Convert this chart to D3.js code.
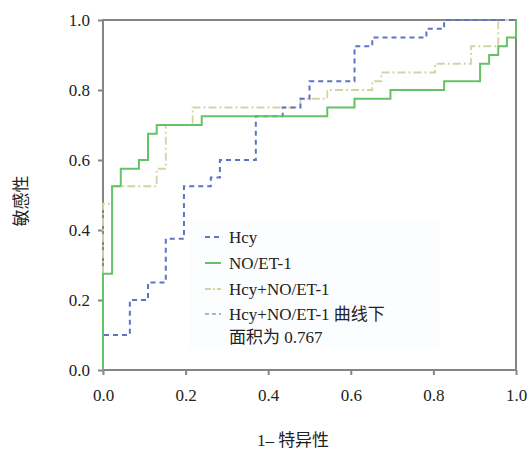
<!DOCTYPE html>
<html><head><meta charset="utf-8">
<script src="https://cdn.jsdelivr.net/npm/d3@7/dist/d3.min.js"></script>
<style>body{margin:0;background:#fff}svg{display:block}</style>
</head><body><svg id="c" width="531" height="453"></svg>
<script>
const tickLabels = ["0.0","0.2","0.4","0.6","0.8","1.0"];
const tickValues = [0,0.2,0.4,0.6,0.8,1.0];
const seriesNames = ["Hcy","NO/ET-1","Hcy+NO/ET-1"];
const noteLines = ["Hcy+NO/ET-1 曲线下","面积为 0.767"];
const hcyFpr = [0,0,0.065,0.109,0.152,0.196,0.261,0.283,0.370,0.435,0.478,0.500,0.609,0.652,0.783,0.826,1];
const hcyTpr = [0,0.1,0.2,0.25,0.375,0.525,0.55,0.6,0.725,0.75,0.775,0.825,0.925,0.95,0.975,1,1];
const noFpr = [0,0,0.022,0.043,0.087,0.109,0.130,0.239,0.543,0.609,0.696,0.826,0.913,0.935,0.957,0.978,1];
const noTpr = [0,0.275,0.525,0.575,0.6,0.675,0.7,0.725,0.75,0.775,0.8,0.825,0.875,0.9,0.925,0.95,1];
const combFpr = [0,0,0.022,0.130,0.152,0.217,0.478,0.543,0.652,0.674,0.804,0.891,0.957,1];
const combTpr = [0,0.475,0.525,0.575,0.7,0.75,0.775,0.8,0.825,0.85,0.875,0.925,1,1];

const svg = d3.select("#c");
const L=103,R=516,T=20,B=370;
const x = d3.scaleLinear().domain([0,1]).range([L,R]);
const y = d3.scaleLinear().domain([0,1]).range([B,T]);
const serif = "'Liberation Serif','Times New Roman','Noto Sans CJK SC',serif";
const axisCol = "#858585";

svg.append("rect").attr("x",190).attr("y",222).attr("width",250).attr("height",128).attr("fill","#fcfdfe");

svg.append("rect").attr("x",L).attr("y",T).attr("width",R-L).attr("height",B-T)
  .attr("fill","none").attr("stroke",axisCol).attr("stroke-width",2);

const xa = svg.append("g").attr("transform",`translate(0,${B})`)
  .call(d3.axisBottom(x).tickValues(tickValues).tickFormat((d,i)=>tickLabels[i]).tickSize(5).tickPadding(14));
const ya = svg.append("g").attr("transform",`translate(${L},0)`)
  .call(d3.axisLeft(y).tickValues(tickValues).tickFormat((d,i)=>tickLabels[i]).tickSize(5).tickPadding(8));
[xa,ya].forEach(g=>{
  g.attr("font-family",serif);
  g.select(".domain").remove();
  g.selectAll(".tick line").attr("stroke",axisCol).attr("stroke-width",2);
  g.selectAll(".tick text").attr("font-family",serif).attr("font-size",17).attr("fill","#222");
});

const mk = (f,t)=>f.map((v,i)=>[v,t[i]]);
const series = [
  {d:mk(combFpr,combTpr), c:"#d6d3a2", dash:"8,3,2,3", w:1.8},
  {d:mk(hcyFpr,hcyTpr), c:"#5e72c8", dash:"5,4", w:2},
  {d:mk(noFpr,noTpr), c:"#66c266", dash:null, w:2}
];
series.forEach(s=>{
  svg.append("path").attr("d",d3.line().x(d=>x(d[0])).y(d=>y(d[1])).curve(d3.curveStepAfter)(s.d))
    .attr("fill","none").attr("stroke",s.c).attr("stroke-width",s.w)
    .attr("stroke-dasharray",s.dash);
});

const leg = [
  {t:seriesNames[0], c:"#5e72c8", dash:"5,4", y:237},
  {t:seriesNames[1], c:"#66c266", dash:null, y:263},
  {t:seriesNames[2], c:"#d6d3a2", dash:"6,2,2,2", y:289},
  {t:noteLines[0], c:"#b5b5b5", dash:"4,3", y:314}
];
leg.forEach(l=>{
  svg.append("line").attr("x1",205).attr("x2",221).attr("y1",l.y).attr("y2",l.y)
    .attr("stroke",l.c).attr("stroke-width",2).attr("stroke-dasharray",l.dash);
  svg.append("text").attr("x",229).attr("y",l.y+6).text(l.t)
    .attr("font-family",serif).attr("font-size",17).attr("fill","#222");
});
svg.append("text").attr("x",229).attr("y",343).text(noteLines[1])
  .attr("font-family",serif).attr("font-size",17).attr("fill","#222");

svg.append("text").attr("x",293).attr("y",446).attr("text-anchor","middle").text("1– 特异性")
  .attr("font-family",serif).attr("font-size",17).attr("fill","#222");
svg.append("text").attr("transform","translate(27,201) rotate(-90)").attr("text-anchor","middle").text("敏感性")
  .attr("font-family",serif).attr("font-size",17).attr("fill","#222");
</script></body></html>
